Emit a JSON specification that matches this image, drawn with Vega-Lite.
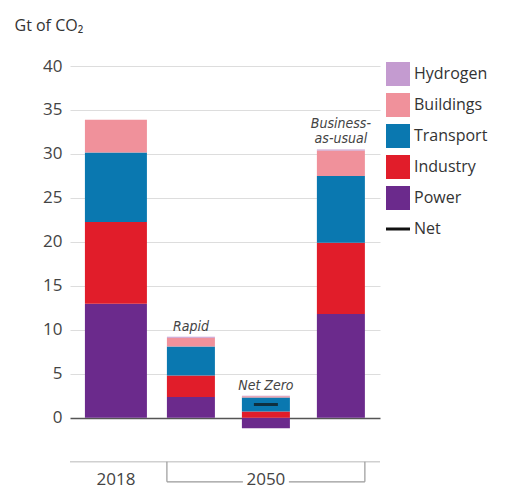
{
  "$schema": "https://vega.github.io/schema/vega-lite/v6.json",
  "width": 310,
  "height": 422,
  "autosize": {"type": "none"},
  "padding": {"left": 70, "top": 66, "right": 126, "bottom": 2},
  "background": "white",
  "config": {"view": {"stroke": null}, "font": "Open Sans"},
  "datasets": {
    "emissions": [
      {"scenario": "2018", "sector": "Power", "value": 12.95},
      {"scenario": "2018", "sector": "Industry", "value": 9.3},
      {"scenario": "2018", "sector": "Transport", "value": 7.9},
      {"scenario": "2018", "sector": "Buildings", "value": 3.75},
      {"scenario": "Rapid", "sector": "Power", "value": 2.35},
      {"scenario": "Rapid", "sector": "Industry", "value": 2.45},
      {"scenario": "Rapid", "sector": "Transport", "value": 3.3},
      {"scenario": "Rapid", "sector": "Buildings", "value": 1.0},
      {"scenario": "Rapid", "sector": "Hydrogen", "value": 0.1},
      {"scenario": "Net Zero", "sector": "Power", "value": -1.2},
      {"scenario": "Net Zero", "sector": "Industry", "value": 0.7},
      {"scenario": "Net Zero", "sector": "Transport", "value": 1.6},
      {"scenario": "Net Zero", "sector": "Buildings", "value": 0.15},
      {"scenario": "Net Zero", "sector": "Hydrogen", "value": 0.05},
      {"scenario": "Business-as-usual", "sector": "Power", "value": 11.8},
      {"scenario": "Business-as-usual", "sector": "Industry", "value": 8.1},
      {"scenario": "Business-as-usual", "sector": "Transport", "value": 7.6},
      {"scenario": "Business-as-usual", "sector": "Buildings", "value": 2.9},
      {"scenario": "Business-as-usual", "sector": "Hydrogen", "value": 0.1}
    ],
    "net": [{"scenario": "Net Zero", "value": 1.5}],
    "labels": [
      {"scenario": "Rapid", "label": "Rapid", "lines": 1},
      {"scenario": "Net Zero", "label": "Net Zero", "lines": 1},
      {"scenario": "Business-as-usual", "label": "Business-\nas-usual", "lines": 2}
    ],
    "periods": [
      {"scenario": "2018", "period": "2018"},
      {"scenario": "Net Zero", "period": "2050"}
    ]
  },
  "layer": [
    {
      "data": {"values": [{}]},
      "mark": {"type": "rule", "color": "#d0d0d0", "strokeWidth": 1.5},
      "encoding": {"y": {"datum": -5, "type": "quantitative", "scale": {"domain": [-8, 40], "nice": false}}}
    },
    {
      "data": {"name": "emissions"},
      "transform": [
        {"filter": "datum.scenario === '2018'"},
        {"calculate": "indexof(['Power','Industry','Transport','Buildings','Hydrogen'], datum.sector)", "as": "rank"}
      ],
      "mark": {"type": "bar", "size": 62},
      "encoding": {
        "x": {"field": "scenario", "type": "nominal", "scale": {"type": "point", "domain": ["2018", "Rapid", "Net Zero", "Business-as-usual"], "padding": 0.567, "align": 0.54}, "axis": null},
        "y": {
          "field": "value", "type": "quantitative", "stack": "zero",
          "scale": {"domain": [-8, 40], "nice": false},
          "axis": {
            "values": [0, 5, 10, 15, 20, 25, 30, 35, 40],
            "ticks": false, "domain": false, "grid": true,
            "gridColor": {"condition": {"test": "datum.value === 0", "value": "#555555"}, "value": "#dddddd"},
            "gridWidth": {"condition": {"test": "datum.value === 0", "value": 1.5}, "value": 1},
            "labelFontSize": 17, "labelColor": "#444444", "labelPadding": 8,
            "title": "Gt of CO₂", "titleAngle": 0, "titleAlign": "left", "titleBaseline": "alphabetic",
            "titleX": -56, "titleY": -36, "titleFontSize": 16, "titleFontWeight": "normal", "titleColor": "#333333"
          }
        },
        "order": {"field": "rank", "type": "quantitative"},
        "color": {
          "field": "sector", "type": "nominal",
          "scale": {"domain": ["Power", "Industry", "Transport", "Buildings", "Hydrogen", "Net"], "range": ["#6b2a8c", "#e11d2a", "#0a78b0", "#f0919b", "#c49bd0", "#111111"]},
          "legend": {
            "orient": "none", "legendX": 320, "legendY": 0, "title": null,
            "values": ["Hydrogen", "Buildings", "Transport", "Industry", "Power", "Net"],
            "symbolType": "square", "symbolSize": 576, "symbolStrokeWidth": 0,
            "labelFontSize": 16, "labelColor": "#333333", "labelOffset": 8, "rowPadding": 7,
            "gridAlign": "all",
            "encode": {
              "symbols": {
                "update": {
                  "shape": {"signal": "datum.value === 'Net' ? 'stroke' : 'square'"},
                  "stroke": {"signal": "datum.value === 'Net' ? '#111111' : 'transparent'"},
                  "strokeWidth": {"signal": "datum.value === 'Net' ? 3 : 0"}
                }
              }
            }
          }
        }
      }
    },
    {
      "data": {"name": "emissions"},
      "transform": [
        {"filter": "datum.scenario !== '2018'"},
        {"calculate": "indexof(['Power','Industry','Transport','Buildings','Hydrogen'], datum.sector)", "as": "rank"}
      ],
      "mark": {"type": "bar", "size": 48},
      "encoding": {
        "x": {"field": "scenario", "type": "nominal"},
        "y": {"field": "value", "type": "quantitative", "stack": "zero"},
        "order": {"field": "rank", "type": "quantitative"},
        "color": {"field": "sector", "type": "nominal"}
      }
    },
    {
      "data": {"name": "net"},
      "mark": {"type": "tick", "color": "#111111", "thickness": 3, "size": 24},
      "encoding": {
        "x": {"field": "scenario", "type": "nominal"},
        "y": {"field": "value", "type": "quantitative"}
      }
    },
    {
      "data": {"name": "emissions"},
      "transform": [
        {"filter": "datum.value > 0"},
        {"aggregate": [{"op": "sum", "field": "value", "as": "total"}], "groupby": ["scenario"]},
        {"lookup": "scenario", "from": {"data": {"name": "labels"}, "key": "scenario", "fields": ["label", "lines"]}},
        {"filter": "datum.lines === 1"}
      ],
      "mark": {"type": "text", "font": "DejaVu Sans Condensed", "fontStyle": "italic", "fontSize": 14, "color": "#444444", "baseline": "bottom", "dy": -3},
      "encoding": {
        "x": {"field": "scenario", "type": "nominal"},
        "y": {"field": "total", "type": "quantitative"},
        "text": {"field": "label"}
      }
    },
    {
      "data": {"name": "emissions"},
      "transform": [
        {"filter": "datum.value > 0"},
        {"aggregate": [{"op": "sum", "field": "value", "as": "total"}], "groupby": ["scenario"]},
        {"lookup": "scenario", "from": {"data": {"name": "labels"}, "key": "scenario", "fields": ["label", "lines"]}},
        {"filter": "datum.lines === 2"}
      ],
      "mark": {"type": "text", "font": "DejaVu Sans Condensed", "fontStyle": "italic", "fontSize": 14, "color": "#444444", "baseline": "bottom", "dy": -19, "lineBreak": "\n", "lineHeight": 15},
      "encoding": {
        "x": {"field": "scenario", "type": "nominal"},
        "y": {"field": "total", "type": "quantitative"},
        "text": {"field": "label"}
      }
    },
    {
      "data": {"name": "periods"},
      "mark": {"type": "text", "fontSize": 17, "color": "#444444", "baseline": "middle"},
      "encoding": {
        "x": {"field": "scenario", "type": "nominal"},
        "y": {"datum": -7.1, "type": "quantitative"},
        "text": {"field": "period"}
      }
    },
    {
      "data": {"values": [{}]},
      "mark": {"type": "rule", "color": "#999999", "strokeWidth": 1.2, "xOffset": -24},
      "encoding": {"x": {"datum": "Rapid", "type": "nominal"}, "y": {"datum": -5, "type": "quantitative"}, "y2": {"datum": -7.3}}
    },
    {
      "data": {"values": [{}]},
      "mark": {"type": "rule", "color": "#999999", "strokeWidth": 1.2, "xOffset": 24},
      "encoding": {"x": {"datum": "Business-as-usual", "type": "nominal"}, "y": {"datum": -5, "type": "quantitative"}, "y2": {"datum": -7.3}}
    },
    {
      "data": {"values": [{}]},
      "mark": {"type": "rule", "color": "#999999", "strokeWidth": 1.2, "xOffset": -24, "x2Offset": -23},
      "encoding": {"x": {"datum": "Rapid", "type": "nominal"}, "x2": {"datum": "Net Zero"}, "y": {"datum": -7.3, "type": "quantitative"}}
    },
    {
      "data": {"values": [{}]},
      "mark": {"type": "rule", "color": "#999999", "strokeWidth": 1.2, "xOffset": 23, "x2Offset": 24},
      "encoding": {"x": {"datum": "Net Zero", "type": "nominal"}, "x2": {"datum": "Business-as-usual"}, "y": {"datum": -7.3, "type": "quantitative"}}
    }
  ]
}
